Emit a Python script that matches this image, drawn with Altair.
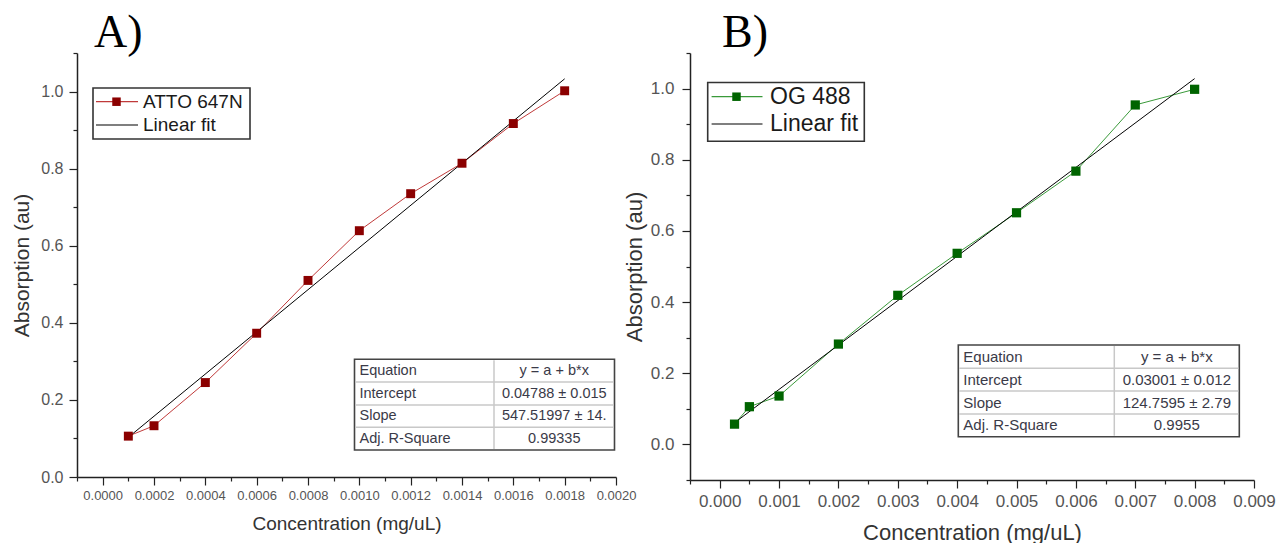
import altair as alt
import pandas as pd

# ---------------- data ----------------
conc_a = [0.0001, 0.0002, 0.0004, 0.0006, 0.0008, 0.0010, 0.0012, 0.0014, 0.0016, 0.0018]
abs_a = [0.106, 0.133, 0.245, 0.373, 0.510, 0.639, 0.735, 0.814, 0.917, 1.002]
fit_x_a = [0.0001, 0.0018]
fit_y_a = [0.103, 1.033]

conc_b = [0.00025, 0.0005, 0.001, 0.002, 0.003, 0.004, 0.005, 0.006, 0.007, 0.008]
abs_b = [0.057, 0.106, 0.136, 0.282, 0.419, 0.537, 0.651, 0.768, 0.954, 0.998]
fit_x_b = [0.00025, 0.008]
fit_y_b = [0.061, 1.028]

legend_a = ["ATTO 647N", "Linear fit"]
legend_b = ["OG 488", "Linear fit"]
panel_titles = ["A)", "B)"]
table_keys = ["Equation", "Intercept", "Slope", "Adj. R-Square"]
table_vals_a = ["y = a + b*x", "0.04788 \u00b1 0.015", "547.51997 \u00b1 14.", "0.99335"]
table_vals_b = ["y = a + b*x", "0.03001 \u00b1 0.012", "124.7595 \u00b1 2.79", "0.9955"]

xticks_a = [-0.0001, 0.0, 0.0001, 0.0002, 0.0003, 0.0004, 0.0005, 0.0006, 0.0007, 0.0008,
            0.0009, 0.0010, 0.0011, 0.0012, 0.0013, 0.0014, 0.0015, 0.0016, 0.0017, 0.0018,
            0.0019, 0.0020]
xticks_b = [-0.0005, 0.0, 0.0005, 0.001, 0.0015, 0.002, 0.0025, 0.003, 0.0035, 0.004,
            0.0045, 0.005, 0.0055, 0.006, 0.0065, 0.007, 0.0075, 0.008, 0.0085, 0.009]
yticks_a = [0.0, 0.1, 0.2, 0.3, 0.4, 0.5, 0.6, 0.7, 0.8, 0.9, 1.0, 1.1]
yticks_b = [-0.1, 0.0, 0.1, 0.2, 0.3, 0.4, 0.5, 0.6, 0.7, 0.8, 0.9, 1.0, 1.1]
x_title = "Concentration (mg/uL)"
y_title = "Absorption (au)"

FONT = "Liberation Sans"
AXC = "#222222"
LABC = "#555555"
TXTC = "#333333"


def one(text):
    return alt.Data(values=[{"t": text}])


def panel(conc, ab, fx, fy, xdom, xticks, xmul, xfmt, ydom, yticks, w, h, st):
    xmajor = f"abs(round(datum.value*{xmul})) % 2 == 0"
    ymajor = "abs(round(datum.value*10)) % 2 == 0"
    X = alt.X("x:Q", scale=alt.Scale(domain=xdom, nice=False, zero=False),
              axis=alt.Axis(values=xticks, title=x_title,
                            labelExpr=f"{xmajor} ? format(datum.value, '{xfmt}') : ''",
                            tickSize={"condition": {"test": xmajor, "value": 8}, "value": 4},
                            labelFontSize=st["xl"], labelPadding=st["xlp"], labelColor=LABC,
                            labelFont=FONT, labelFlush=False, labelOverlap=False,
                            titleFont=FONT, titleFontSize=st["xt"], titleFontWeight="normal",
                            titleColor=TXTC, titleY=st["xty"], titleBaseline="middle",
                            grid=False, domainColor=AXC, domainWidth=1.5,
                            tickColor=AXC, tickWidth=1.2))
    Y = alt.Y("y:Q", scale=alt.Scale(domain=ydom, nice=False, zero=False),
              axis=alt.Axis(values=yticks, title=y_title,
                            labelExpr=f"{ymajor} ? format(datum.value, '.1f') : ''",
                            tickSize={"condition": {"test": ymajor, "value": 8}, "value": 4},
                            labelFontSize=st["yl"], labelPadding=st["ylp"], labelColor=LABC,
                            labelFont=FONT, labelOverlap=False, labelFlush=False,
                            titleFont=FONT, titleFontSize=st["yt"], titleFontWeight="normal",
                            titleColor=TXTC, titleX=st["ytx"], titleY=h / 2,
                            titleAngle=270, titleBaseline="middle", titleAlign="center",
                            grid=False, domainColor=AXC, domainWidth=1.5,
                            tickColor=AXC, tickWidth=1.2))

    df = pd.DataFrame({"x": conc, "y": ab})
    dfit = pd.DataFrame({"x": fx, "y": fy})
    layers = [
        alt.Chart(df).mark_line(color=st["line"], strokeWidth=1).encode(x=X, y=Y),
        alt.Chart(dfit).mark_line(color="black", strokeWidth=1).encode(x=X, y=Y),
        alt.Chart(df).mark_square(size=st["ms"], color=st["mark"], opacity=1).encode(x=X, y=Y),
    ]

    # legend (drawn)
    lg = st["lg"]
    layers.append(alt.Chart(one("box")).mark_rect(fill="white", stroke="#333333", strokeWidth=1.6)
                  .encode(x=alt.value(lg["x0"]), x2=alt.value(lg["x1"]),
                          y=alt.value(lg["y0"]), y2=alt.value(lg["y1"])))
    layers.append(alt.Chart(one("l1")).mark_rule(color=st["line"], strokeWidth=1.2)
                  .encode(x=alt.value(lg["lx0"]), x2=alt.value(lg["lx1"]), y=alt.value(lg["r1"])))
    layers.append(alt.Chart(one("m1")).mark_square(size=72, color=st["mark"], opacity=1)
                  .encode(x=alt.value(lg["mx"]), y=alt.value(lg["r1"])))
    layers.append(alt.Chart(one("l2")).mark_rule(color="black", strokeWidth=1.2)
                  .encode(x=alt.value(lg["lx0"]), x2=alt.value(lg["lx1"]), y=alt.value(lg["r2"])))
    for txt, ry in zip(st["legend"], [lg["r1"], lg["r2"]]):
        layers.append(alt.Chart(one(txt)).mark_text(font=FONT, fontSize=lg["fs"], align="left",
                                                    baseline="middle", color="#1a1a1a")
                      .encode(text="t:N", x=alt.value(lg["tx"]), y=alt.value(ry)))

    # fit table (drawn)
    tb = st["tb"]
    rows = tb["rows"]
    layers.append(alt.Chart(one("tbox")).mark_rect(fill="white", stroke="#444444", strokeWidth=1.6)
                  .encode(x=alt.value(tb["x0"]), x2=alt.value(tb["x1"]),
                          y=alt.value(rows[0]), y2=alt.value(rows[-1])))
    for ry in rows[1:-1]:
        layers.append(alt.Chart(one("hl")).mark_rule(color="#c8c8c8", strokeWidth=1.5)
                      .encode(x=alt.value(tb["x0"] + 1), x2=alt.value(tb["x1"] - 1), y=alt.value(ry)))
    layers.append(alt.Chart(one("vl")).mark_rule(color="#c8c8c8", strokeWidth=1.5)
                  .encode(x=alt.value(tb["xs"]), y=alt.value(rows[0] + 1), y2=alt.value(rows[-1] - 1)))
    for i, (k, v) in enumerate(zip(table_keys, st["vals"])):
        cy = (rows[i] + rows[i + 1]) / 2
        layers.append(alt.Chart(one(k)).mark_text(font=FONT, fontSize=tb["fs"], align="left",
                                                  baseline="middle", color="#3a3a48")
                      .encode(text="t:N", x=alt.value(tb["x0"] + 5), y=alt.value(cy)))
        layers.append(alt.Chart(one(v)).mark_text(font=FONT, fontSize=tb["fs"], align="center",
                                                  baseline="middle", color="#3a3a48")
                      .encode(text="t:N", x=alt.value((tb["xs"] + tb["x1"]) / 2), y=alt.value(cy)))

    # panel letter
    layers.append(alt.Chart(one(st["title"])).mark_text(font="Liberation Serif", fontSize=46,
                                                        align="left", baseline="alphabetic",
                                                        color="black")
                  .encode(text="t:N", x=alt.value(st["tlx"]), y=alt.value(-6)))
    if st.get("anchor"):
        layers.append(alt.Chart(one("a")).mark_rule(strokeOpacity=0, strokeWidth=0)
                      .encode(x=alt.value(-77), x2=alt.value(-77), y=alt.value(-53), y2=alt.value(-53)))

    return alt.layer(*layers).properties(width=w, height=h)


style_a = dict(
    line="#c03a3a", mark="#8b0000", ms=80, legend=legend_a, vals=table_vals_a, title=panel_titles[0],
    tlx=17, anchor=True,
    xl=13, xlp=4.5, xt=19, xty=46, yl=16, ylp=6, yt=21, ytx=-55,
    lg=dict(x0=16, x1=173, y0=35, y1=86, r1=48.7, r2=72, lx0=19, lx1=61, mx=39.5, tx=66, fs=19),
    tb=dict(x0=277.5, x1=537.5, xs=417, rows=[306.3, 329, 352, 374.3, 397], fs=14.5),
)
style_b = dict(
    line="#3a9a3a", mark="#006400", ms=85, legend=legend_b, vals=table_vals_b, title=panel_titles[1],
    tlx=32, anchor=False,
    xl=17, xlp=5.4, xt=22, xty=52, yl=17, ylp=8, yt=22, ytx=-56,
    lg=dict(x0=17.7, x1=174.3, y0=29.5, y1=88.3, r1=43.7, r2=71, lx0=21.6, lx1=72.5, mx=46.5, tx=80, fs=23),
    tb=dict(x0=268.3, x1=549.3, xs=424.3, rows=[292, 315.3, 338, 361, 383.7], fs=15),
)

chart_a = panel(conc_a, abs_a, fit_x_a, fit_y_a, [-0.0001, 0.0020], xticks_a, 10000, ".4f",
                [0.0, 1.1], yticks_a, 539, 424, style_a)
chart_b = panel(conc_b, abs_b, fit_x_b, fit_y_b, [-0.0005, 0.009], xticks_b, 2000, ".3f",
                [-0.1, 1.1], yticks_b, 564, 427, style_b)

chart = (alt.hconcat(chart_a, chart_b, spacing=74, bounds="flush")
         .properties(padding={"left": 0, "top": 0, "right": 0, "bottom": 0},
                     background="white")
         .configure_view(stroke=None))

chart.save("out.html", embed_options={"renderer": "svg", "actions": False})
